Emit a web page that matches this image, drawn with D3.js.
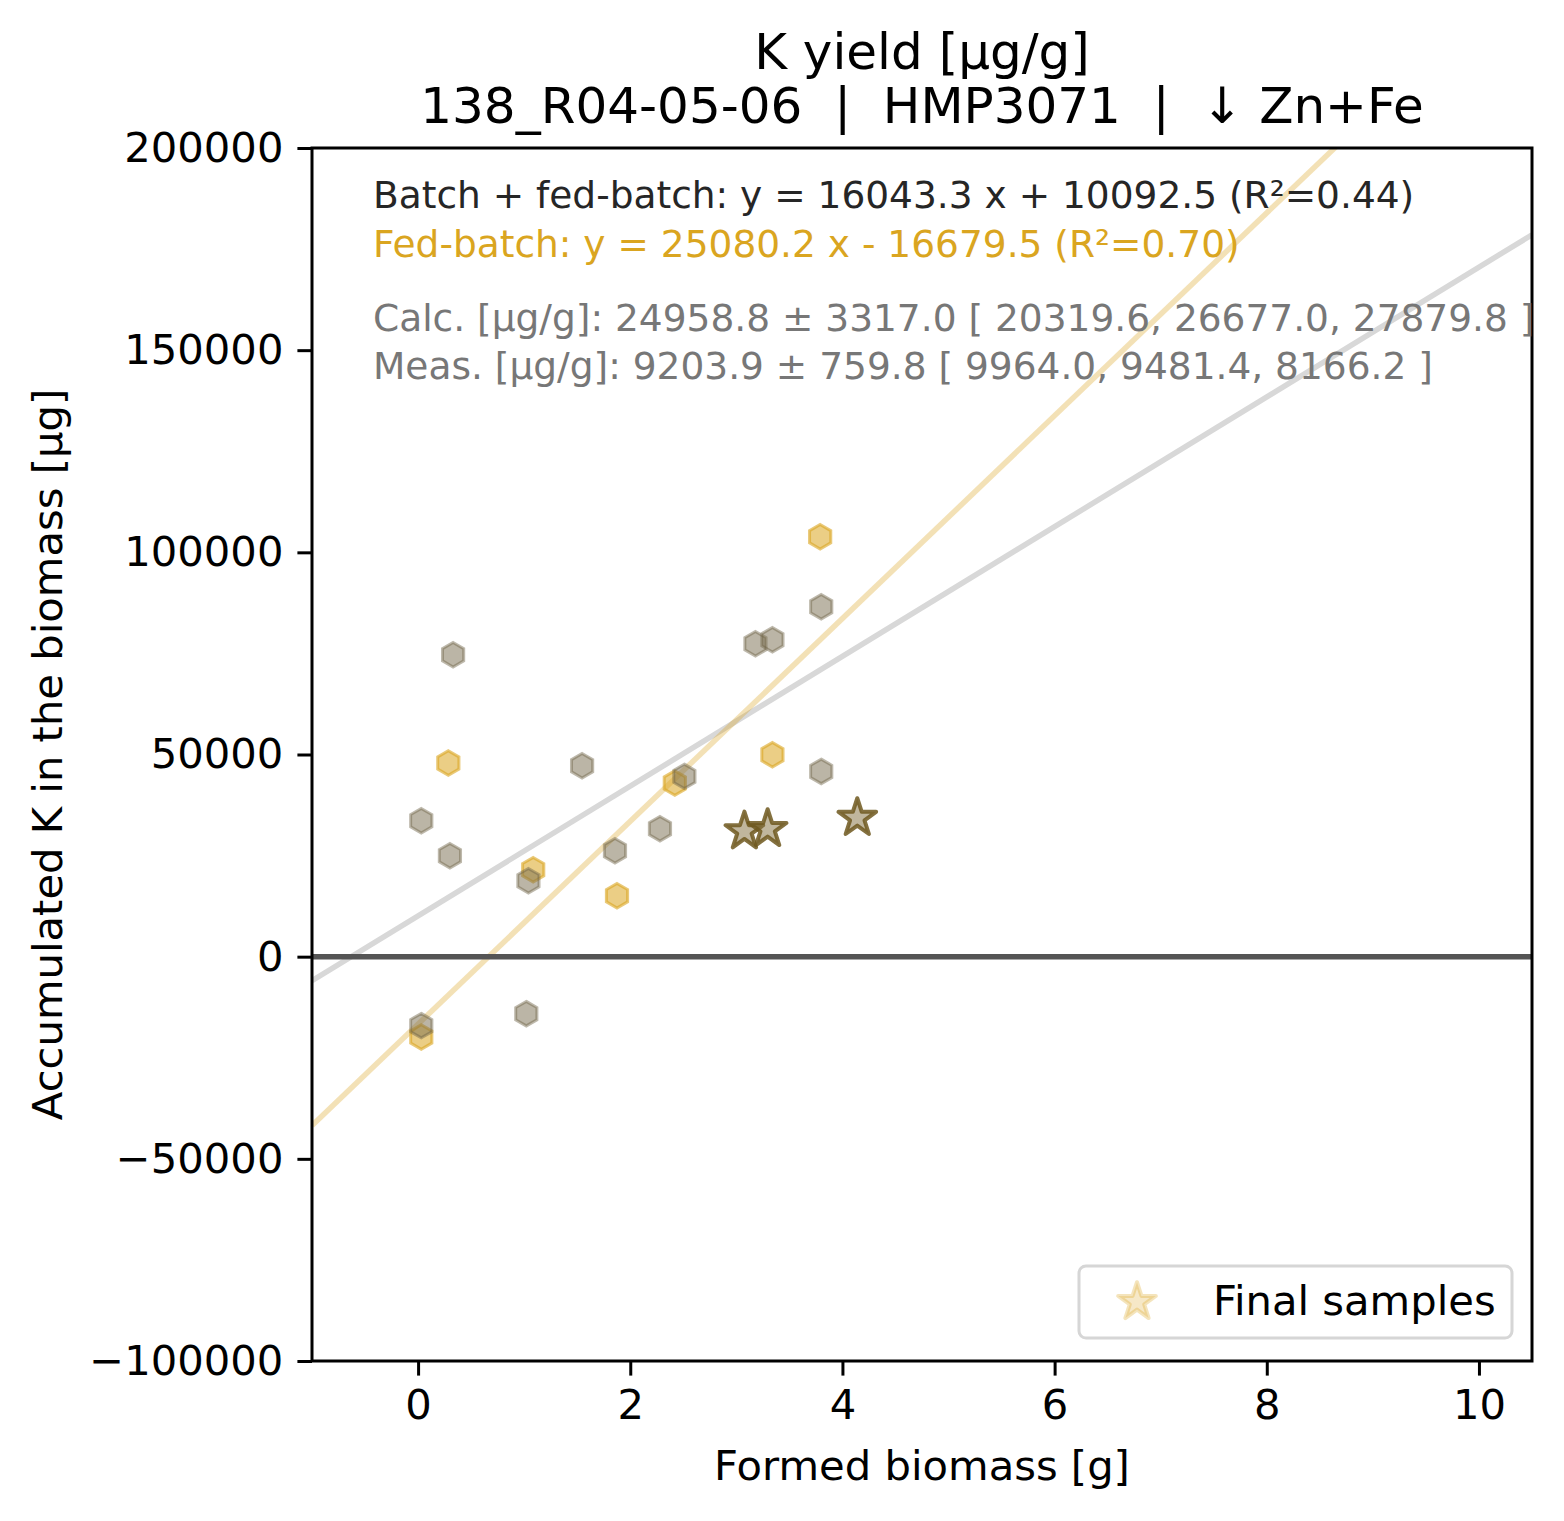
<!DOCTYPE html>
<html>
<head>
<meta charset="utf-8">
<style>
  body { margin: 0; background: #fff; }
  text { font-family: "DejaVu Sans", sans-serif; white-space: pre; }
</style>
</head>
<body>
<svg width="1564" height="1521"></svg>
<script src="https://d3js.org/d3.v7.min.js"></script>
<script>

// fed-batch samples (gold)
var fedX = [0.285, 3.34, 2.42, 1.085, 1.875, 0.03, 3.79];
var fedY = [47900, 49950, 42950, 21510, 15080, -19860, 103860];

// all samples, batch + fed-batch (grey)
var allX = [0.33, 3.18, 3.34, 1.546, 2.51, 3.80, 0.03, 0.30, 2.28, 1.856, 1.04, 1.02, 0.03, 3.80];
var allY = [74680, 77400, 78390, 47230, 44590, 45820, 33630, 24975, 31650, 26210, 18790, -14095, -17060, 86550];

// final samples (stars)
var finalX = [3.076, 3.295, 4.14];
var finalY = [30990, 31570, 34300];

// regression fits: slope, intercept
var fitAll = [16043.3, 10092.5];
var fitFed = [25080.2, -16679.5];

var xTicks = [0, 2, 4, 6, 8, 10];
var yTicks = [-100000, -50000, 0, 50000, 100000, 150000, 200000];

var titleLines = ["K yield [µg/g]", "138_R04-05-06  |  HMP3071  |  ↓ Zn+Fe"];
var notes = [
  "Batch + fed-batch: y = 16043.3 x + 10092.5 (R²=0.44)",
  "Fed-batch: y = 25080.2 x - 16679.5 (R²=0.70)",
  "Calc. [µg/g]: 24958.8 ± 3317.0 [ 20319.6, 26677.0, 27879.8 ]",
  "Meas. [µg/g]: 9203.9 ± 759.8 [ 9964.0, 9481.4, 8166.2 ]"
];

var svg = d3.select("svg"),
    margin = {top: 148, right: 32, bottom: 160, left: 312},
    width = +svg.attr("width") - margin.left - margin.right,
    height = +svg.attr("height") - margin.top - margin.bottom,
    g = svg.append("g").attr("transform", "translate(" + margin.left + "," + margin.top + ")");

var x = d3.scaleLinear().domain([-1, 10.5]).range([0, width]);
var y = d3.scaleLinear().domain([-100000, 200000]).range([height, 0]);

svg.append("defs").append("clipPath").attr("id", "clip")
  .append("rect").attr("width", width).attr("height", height);

// hexagon with a vertex on top, like matplotlib "h"
var hexagon = {
  draw: function(ctx, size) {
    var r = Math.sqrt(size);
    for (var i = 0; i < 6; i++) {
      var a = -Math.PI / 2 + i * Math.PI / 3;
      if (i == 0) ctx.moveTo(r * Math.cos(a), r * Math.sin(a));
      else ctx.lineTo(r * Math.cos(a), r * Math.sin(a));
    }
    ctx.closePath();
  }
};

var plot = g.append("g").attr("clip-path", "url(#clip)");

// regression lines
function fitLine(f) {
  return x.domain().map(function(v) { return [x(v), y(f[0] * v + f[1])]; });
}
plot.append("path")
    .attr("d", d3.line()(fitLine(fitAll)))
    .attr("fill", "none")
    .attr("stroke", "#d8d8d8")
    .attr("stroke-width", 5.5);
plot.append("path")
    .attr("d", d3.line()(fitLine(fitFed)))
    .attr("fill", "none")
    .attr("stroke", "rgba(218,165,32,0.33)")
    .attr("stroke-width", 5.5);

// zero line
plot.append("line")
    .attr("x1", 0).attr("x2", width)
    .attr("y1", y(0)).attr("y2", y(0))
    .attr("stroke", "#555")
    .attr("stroke-width", 5.5);

var hex = d3.symbol(hexagon, 150);

plot.append("g").selectAll("path")
  .data(d3.zip(fedX, fedY))
  .enter().append("path")
    .attr("d", hex)
    .attr("transform", function(d) { return "translate(" + x(d[0]) + "," + y(d[1]) + ")"; })
    .attr("fill", "rgba(218,165,32,0.55)")
    .attr("stroke", "rgba(218,165,32,0.6)")
    .attr("stroke-width", 3);

plot.append("g").selectAll("path")
  .data(d3.zip(allX, allY))
  .enter().append("path")
    .attr("d", hex)
    .attr("transform", function(d) { return "translate(" + x(d[0]) + "," + y(d[1]) + ")"; })
    .attr("fill", "rgba(120,108,78,0.5)")
    .attr("stroke", "rgba(110,100,72,0.45)")
    .attr("stroke-width", 3);

var star = d3.symbol(d3.symbolStar, 440);
plot.append("g").selectAll("path")
  .data(d3.zip(finalX, finalY))
  .enter().append("path")
    .attr("d", star)
    .attr("transform", function(d) { return "translate(" + x(d[0]) + "," + y(d[1]) + ")"; })
    .attr("fill", "rgba(130,110,60,0.5)")
    .attr("stroke", "rgba(110,88,30,0.85)")
    .attr("stroke-width", 4)
    .attr("stroke-linejoin", "round");

// axes
var xAxis = g.append("g")
    .attr("transform", "translate(0," + height + ")")
    .call(d3.axisBottom(x).tickValues(xTicks).tickSize(14.6).tickPadding(14).tickFormat(d3.format("d")));
var yAxis = g.append("g")
    .call(d3.axisLeft(y).tickValues(yTicks).tickSize(14.6).tickPadding(14).tickFormat(d3.format("d")));

[xAxis, yAxis].forEach(function(a) {
  a.attr("font-family", "DejaVu Sans").attr("font-size", 41.7);
  a.selectAll("text").attr("fill", "#000");
  a.selectAll("line").attr("stroke", "#000").attr("stroke-width", 3);
  a.select(".domain").remove();
});

g.append("rect")
    .attr("width", width).attr("height", height)
    .attr("fill", "none").attr("stroke", "#000").attr("stroke-width", 3);

// titles and labels
svg.append("g").selectAll("text")
  .data(titleLines)
  .enter().append("text")
    .attr("x", margin.left + width / 2)
    .attr("y", function(d, i) { return 69 + i * 54; })
    .attr("text-anchor", "middle")
    .attr("font-size", 50)
    .text(function(d) { return d; });

svg.append("text")
    .attr("x", margin.left + width / 2)
    .attr("y", 1480)
    .attr("text-anchor", "middle")
    .attr("font-size", 41.7)
    .text("Formed biomass [g]");

svg.append("text")
    .attr("transform", "translate(62," + (margin.top + height / 2) + ") rotate(-90)")
    .attr("text-anchor", "middle")
    .attr("font-size", 41.7)
    .text("Accumulated K in the biomass [µg]");

// annotations
var noteColor = ["#262626", "#DAA520", "#777", "#777"];
var noteY = [208, 257, 331, 379];
g.append("g").selectAll("text")
  .data(notes)
  .enter().append("text")
    .attr("x", 373 - margin.left)
    .attr("y", function(d, i) { return noteY[i] - margin.top; })
    .attr("font-size", 37.5)
    .attr("fill", function(d, i) { return noteColor[i]; })
    .text(function(d) { return d; });

// legend
var leg = svg.append("g").attr("transform", "translate(1079,1266)");
leg.append("rect")
    .attr("width", 433).attr("height", 72)
    .attr("rx", 7)
    .attr("fill", "#fff")
    .attr("stroke", "#d6d6d6")
    .attr("stroke-width", 3);
leg.append("path")
    .attr("d", star)
    .attr("transform", "translate(58,36)")
    .attr("fill", "rgba(218,165,32,0.25)")
    .attr("stroke", "rgba(218,165,32,0.3)")
    .attr("stroke-width", 4)
    .attr("stroke-linejoin", "round");
leg.append("text")
    .attr("x", 134).attr("y", 49)
    .attr("font-size", 41.7)
    .text("Final samples");

</script>
</body>
</html>
